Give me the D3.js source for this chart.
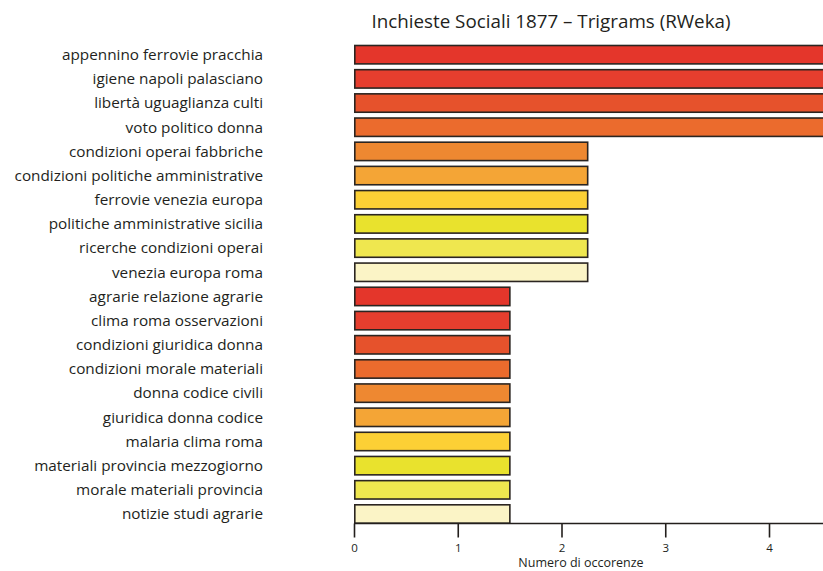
<!DOCTYPE html>
<html>
<head>
<meta charset="utf-8">
<script src="https://cdn.jsdelivr.net/npm/d3@7/dist/d3.min.js"></script>
<style>
  html, body { margin: 0; padding: 0; background: #ffffff; }
  svg { display: block; }
  text { font-family: "Open Sans", "Noto Sans", sans-serif; fill: #231f1c; }
</style>
</head>
<body>
<svg id="chart" width="823" height="571"></svg>
<script>
// Trigram frequencies, top to bottom
const trigrams = [
  "appennino ferrovie pracchia",
  "igiene napoli palasciano",
  "libertà uguaglianza culti",
  "voto politico donna",
  "condizioni operai fabbriche",
  "condizioni politiche amministrative",
  "ferrovie venezia europa",
  "politiche amministrative sicilia",
  "ricerche condizioni operai",
  "venezia europa roma",
  "agrarie relazione agrarie",
  "clima roma osservazioni",
  "condizioni giuridica donna",
  "condizioni morale materiali",
  "donna codice civili",
  "giuridica donna codice",
  "malaria clima roma",
  "materiali provincia mezzogiorno",
  "morale materiali provincia",
  "notizie studi agrarie"
];
const occurrences = [
  4.55, 4.55, 4.55, 4.55,
  2.26, 2.26, 2.26, 2.26, 2.26, 2.26,
  1.51, 1.51, 1.51, 1.51, 1.51, 1.51, 1.51, 1.51, 1.51, 1.51
];
const xTicks = [0, 1, 2, 3, 4];
const palette = [
  "#e4362b", "#e63e2e", "#e6522c", "#eb6b2d", "#ee8831",
  "#f4a536", "#fcd035", "#e9e22d", "#efe74f", "#fbf4c6"
];
const title = "Inchieste Sociali 1877 \u2013 Trigrams (RWeka)";
const xTitle = "Numero di occorenze";

const W = 823, H = 571;
const svg = d3.select("#chart");

const x = d3.scaleLinear().domain([0, 4]).range([354, 769]);
const y = d3.scaleBand()
  .domain(trigrams)
  .range([44.7, 524])
  .paddingInner(0.173)
  .paddingOuter(0);
const color = d3.scaleOrdinal().domain(d3.range(palette.length)).range(palette);

const rows = trigrams.map((t, i) => ({ label: t, value: occurrences[i], idx: i }));

// bars
const sw = 1.6;
svg.append("g")
  .selectAll("rect")
  .data(rows)
  .join("rect")
  .attr("x", x(0) + sw / 2)
  .attr("y", d => y(d.label) + sw / 2)
  .attr("width", d => x(d.value) - x(0) - sw)
  .attr("height", y.bandwidth() - sw)
  .attr("fill", d => color(d.idx % palette.length))
  .attr("stroke", "#2b2521")
  .attr("stroke-width", sw);

// category labels
svg.append("g")
  .selectAll("text")
  .data(rows)
  .join("text")
  .attr("x", 263)
  .attr("y", d => y(d.label) + y.bandwidth() / 2)
  .attr("dy", "0.35em")
  .attr("text-anchor", "end")
  .attr("font-size", 15.3)
  .text(d => d.label);

// x axis
const axisY = 523.5;
const axis = d3.axisBottom(x).tickValues(xTicks).tickSize(14).tickPadding(6).tickFormat(d3.format("d"));
const gx = svg.append("g").attr("transform", `translate(0,${axisY})`).call(axis);
gx.select(".domain").remove();
gx.append("line")
  .attr("x1", x(0)).attr("x2", W)
  .attr("y1", 0).attr("y2", 0)
  .attr("stroke", "#231f1c").attr("stroke-width", 1.6);
gx.selectAll(".tick line").attr("stroke", "#231f1c").attr("stroke-width", 1.6);
gx.selectAll(".tick text")
  .attr("font-family", "'Open Sans', sans-serif")
  .attr("font-size", 11.5)
  .attr("fill", "#231f1c");

svg.append("text")
  .attr("x", 581)
  .attr("y", 567)
  .attr("text-anchor", "middle")
  .attr("font-size", 12.5)
  .text(xTitle);

svg.append("text")
  .attr("x", 551)
  .attr("y", 28)
  .attr("text-anchor", "middle")
  .attr("font-size", 18.8)
  .text(title);
</script>
</body>
</html>
